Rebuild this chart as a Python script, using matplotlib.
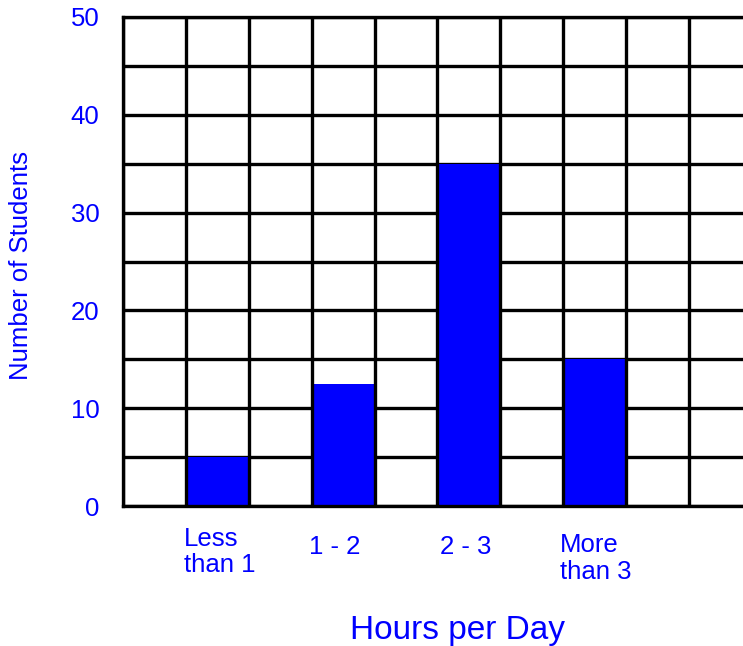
import matplotlib.pyplot as plt
import numpy as np

plt.rcParams['font.family'] = ['Liberation Sans', 'DejaVu Sans']

# data
categories = ['Less\nthan 1', '1 - 2', '2 - 3', 'More\nthan 3']
students = [5, 12.5, 35, 15]
bar_left = [1, 3, 5, 7]        # grid column where each bar starts
y_ticks = [0, 10, 20, 30, 40, 50]

BLUE = '#0000ff'
LW = 2.4

fig = plt.figure(figsize=(7.43, 6.46), dpi=100)
ax = fig.add_axes([123 / 743, 140 / 646, 620 / 743, 489 / 646])

xmax = 620 / 62.9  # one grid column is 62.9 px wide
ax.set_xlim(0, xmax)
ax.set_ylim(0, 50)

# horizontal grid lines under the bars
ax.set_yticks(y_ticks)
ax.set_yticks(np.arange(0, 51, 5), minor=True)
ax.set_axisbelow(True)
ax.grid(True, axis='y', which='both', color='black', linewidth=LW)

ax.bar(np.array(bar_left) + 0.5, students, width=1, color=BLUE,
       edgecolor='none', zorder=2)

# vertical grid lines on top of the bars
ax.vlines(np.arange(0, 10), 0, 50, colors='black', linewidth=LW, zorder=3)

for s in ['left', 'bottom', 'top']:
    ax.spines[s].set_linewidth(LW)
    ax.spines[s].set_zorder(4)
ax.spines['right'].set_visible(False)

ax.set_xticks([])
ax.tick_params(axis='y', which='both', length=0, pad=17, labelsize=18.5,
               labelcolor=BLUE)

# category labels under the axis (offsets are in grid columns / axes units)
label_dx = [0.04, -0.13, -0.05, 0.02]
label_top = [-0.042, -0.060, -0.060, -0.056]
for x, lab, dx, yt in zip(bar_left, categories, label_dx, label_top):
    ax.text(x + 0.5 + dx, yt, lab, transform=ax.get_xaxis_transform(),
            ha='center', va='top', multialignment='left', fontsize=18.5,
            linespacing=1.15, color=BLUE)

fig.text(21 / 743, 1 - 265 / 646, 'Number of Students', rotation=90,
         ha='center', va='center', fontsize=18.5, color=BLUE)
fig.text(457 / 743, 1 - 630 / 646, 'Hours per Day', ha='center',
         va='center', fontsize=24, color=BLUE)

fig.savefig('out.png', dpi=100)
